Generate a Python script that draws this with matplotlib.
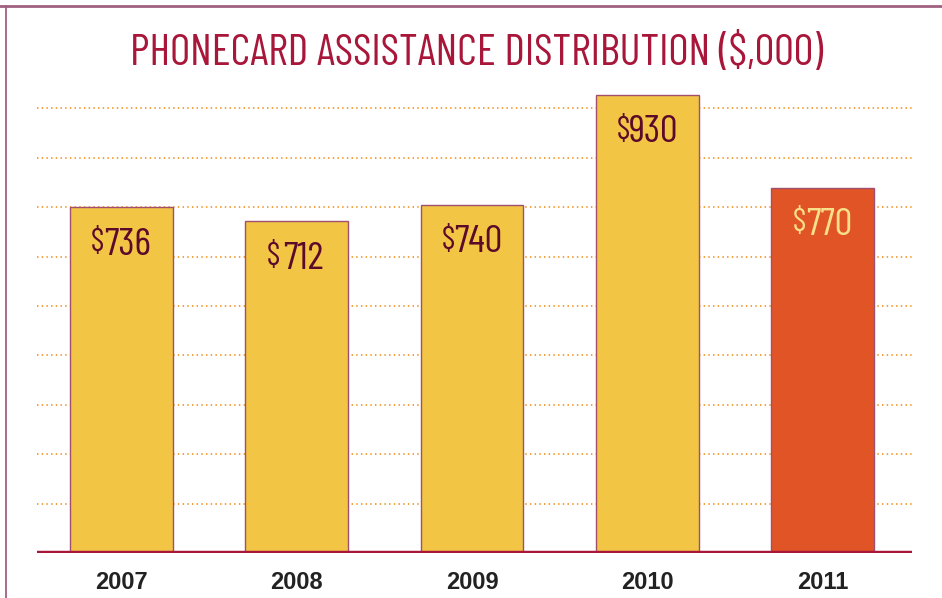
import matplotlib
matplotlib.use("Agg")
import matplotlib.pyplot as plt
import matplotlib.transforms as mtransforms
from matplotlib.lines import Line2D
import numpy as np

years = ["2007", "2008", "2009", "2010", "2011"]
values = [736, 712, 740, 930, 770]
title = "PHONECARD ASSISTANCE DISTRIBUTION ($,000)"

cond = ["Barlow Condensed", "DejaVu Sans"]
W, H = 942, 598
fig = plt.figure(figsize=(W / 100, H / 100), dpi=100)
fig.patch.set_facecolor("white")

# axes placed in pixel terms: x 37..912, baseline at y=553, top at y=80
ax = fig.add_axes([37 / W, 45 / H, 875 / W, (553 - 80) / H])
ylo, px_per_unit = 140, 0.58
ax.set_ylim(ylo, ylo + (553 - 80) / px_per_unit)
ax.set_xlim(-0.481, 4.51)

x = np.arange(len(years))
colors = ["#f2c545"] * 4 + ["#e05426"]
bars = ax.bar(x, values, width=0.587, bottom=0, color=colors,
              edgecolor="#a0506e", linewidth=1.0, zorder=3)

# dotted orange guides
step = 49.4 / px_per_unit
for k in range(1, 10):
    ax.axhline(ylo + k * step, color="#f39a30", lw=1.3,
               ls=(0, (0.8, 1.8)), zorder=1)
ax.axhline(ylo, color="#a8173a", lw=3.2, zorder=4, solid_capstyle="butt")

for s in ax.spines.values():
    s.set_visible(False)
ax.set_yticks([])
ax.set_xticks(x)
ax.set_xticklabels(years, fontsize=17, fontweight="bold", color="#222222",
                   family=["Liberation Sans", "DejaVu Sans"])
ax.tick_params(axis="x", length=0, pad=13)
ax.patch.set_alpha(0)

# value labels inside the bar tops, small dollar sign
for i, v in enumerate(values):
    c = "#f8e08a" if i == len(values) - 1 else "#5c0a2a"
    tr = mtransforms.offset_copy(ax.transData, fig=fig, x=4.7, y=-34.2, units="points")
    ax.text(i, v, str(v), transform=tr, ha="center", va="baseline",
            fontsize=28.5, color=c, family=cond, zorder=5)
    tr2 = mtransforms.offset_copy(ax.transData, fig=fig, x=-12.2, y=-31.5, units="points")
    ax.text(i, v, "\\$", transform=tr2, ha="right", va="baseline",
            fontsize=23, color=c, family=cond, zorder=5)

# title, sized to match the reference width
t = fig.text(477 / W, 1 - 53 / H, title, ha="center", va="center",
             fontsize=30, color="#a8173a", family=cond)
fig.canvas.draw()
wpx = t.get_window_extent().width
t.set_fontsize(30 * 695 / wpx)

# thin frame lines top and left
fig.add_artist(Line2D([0, 1], [1 - 5.5 / H] * 2, transform=fig.transFigure,
                      color="#a06080", lw=2))
fig.add_artist(Line2D([5.5 / W] * 2, [0, 1 - 5.5 / H], transform=fig.transFigure,
                      color="#a06080", lw=1.3))

fig.savefig("out.png", dpi=100)
